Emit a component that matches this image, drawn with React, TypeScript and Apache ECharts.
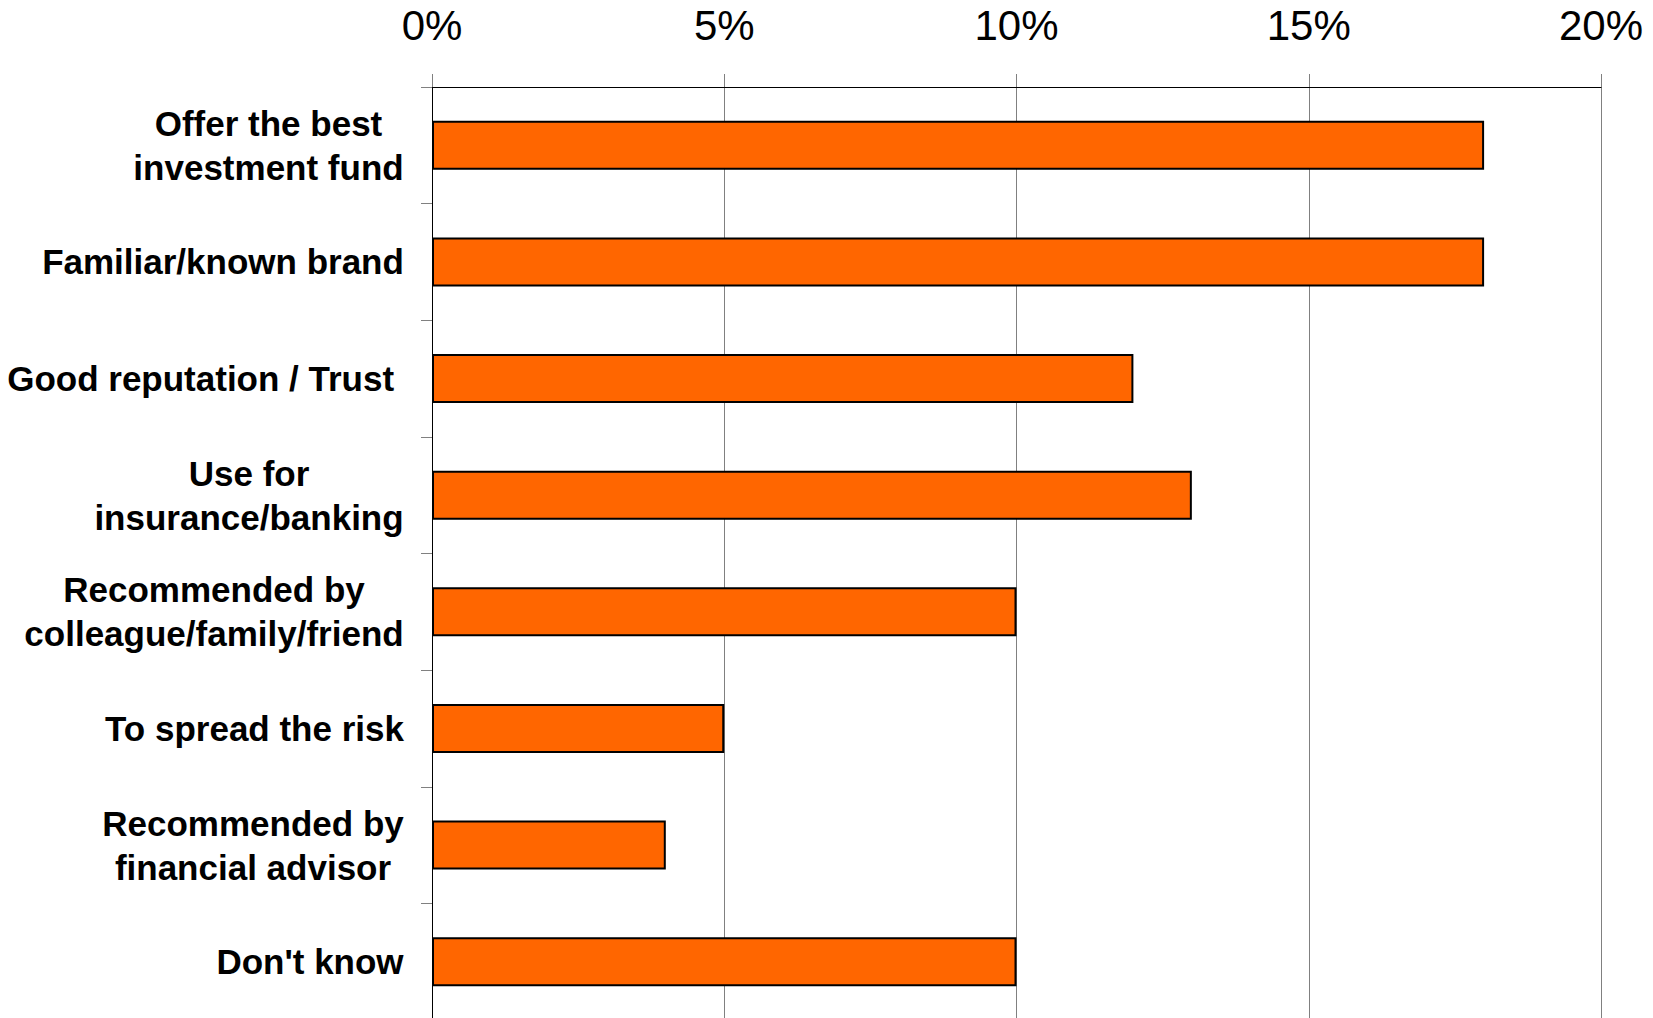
import React, { useEffect, useRef } from 'react';
import * as echarts from 'echarts';

// Reasons for choosing a provider (share of respondents, %)
const categories = [
  'Offer the best\ninvestment fund',
  'Familiar/known brand',
  'Good reputation / Trust ',
  'Use for\ninsurance/banking',
  'Recommended by\ncolleague/family/friend',
  'To spread the risk',
  'Recommended by\nfinancial advisor',
  "Don't know",
];
const shares = [18, 18, 12, 13, 10, 5, 4, 10];

// Percentage axis
const axisMin = 0;
const axisMax = 20;
const axisStep = 5;

const FONT = '"Liberation Sans", Arial, sans-serif';
const LABEL_SIZE = 35;
const LABEL_LINE = 44;

function measure(text: string): number {
  const canvas = document.createElement('canvas');
  const ctx = canvas.getContext('2d');
  if (!ctx) return text.length * LABEL_SIZE * 0.55;
  ctx.font = `bold ${LABEL_SIZE}px ${FONT}`;
  return ctx.measureText(text).width;
}

export default function App() {
  const ref = useRef<HTMLDivElement>(null);

  useEffect(() => {
    document.body.style.margin = '0';
    if (!ref.current) return;
    const chart = echarts.init(ref.current, undefined, { renderer: 'svg' });

    // Each multi-line label is a block whose lines are centred on one another
    const rich: Record<string, any> = {};
    categories.forEach((c, i) => {
      const w = Math.max(...c.split('\n').map(measure));
      rich['c' + i] = {
        width: Math.ceil(w),
        align: 'center',
        fontFamily: FONT,
        fontWeight: 'bold',
        fontSize: LABEL_SIZE,
        lineHeight: LABEL_LINE,
        color: '#000',
      };
    });

    chart.setOption({
      animation: false,
      backgroundColor: '#fff',
      grid: {
        left: 432,
        right: 52,
        top: 87,
        bottom: -2,
        containLabel: false,
        outerBoundsMode: 'none',
      },
      xAxis: {
        type: 'value',
        position: 'top',
        min: axisMin,
        max: axisMax,
        interval: axisStep,
        axisLine: { show: true, lineStyle: { color: '#000', width: 1 } },
        axisTick: { show: true, length: 13, lineStyle: { color: '#808080', width: 1 } },
        axisLabel: {
          formatter: '{value}%',
          fontFamily: FONT,
          fontSize: 42,
          color: '#000',
          margin: 41,
        },
        splitLine: { show: true, lineStyle: { color: '#808080', width: 1 } },
      },
      yAxis: {
        type: 'category',
        inverse: true,
        data: categories,
        axisLine: { show: true, lineStyle: { color: '#000', width: 1 } },
        axisTick: { show: true, length: 11, lineStyle: { color: '#808080', width: 1 } },
        axisLabel: {
          margin: 28,
          align: 'right',
          fontFamily: FONT,
          fontWeight: 'bold',
          fontSize: LABEL_SIZE,
          lineHeight: LABEL_LINE,
          color: '#000',
          formatter: (value: string, index: number) =>
            value
              .split('\n')
              .map((line) => `{c${index}|${line}}`)
              .join('\n'),
          rich,
        },
      },
      series: [
        {
          type: 'bar',
          data: shares,
          barWidth: '42%',
          itemStyle: { color: '#FF6600', borderColor: '#000', borderWidth: 2 },
        },
      ],
    });

    return () => chart.dispose();
  }, []);

  return <div ref={ref} style={{ width: 1653, height: 1018 }} />;
}
